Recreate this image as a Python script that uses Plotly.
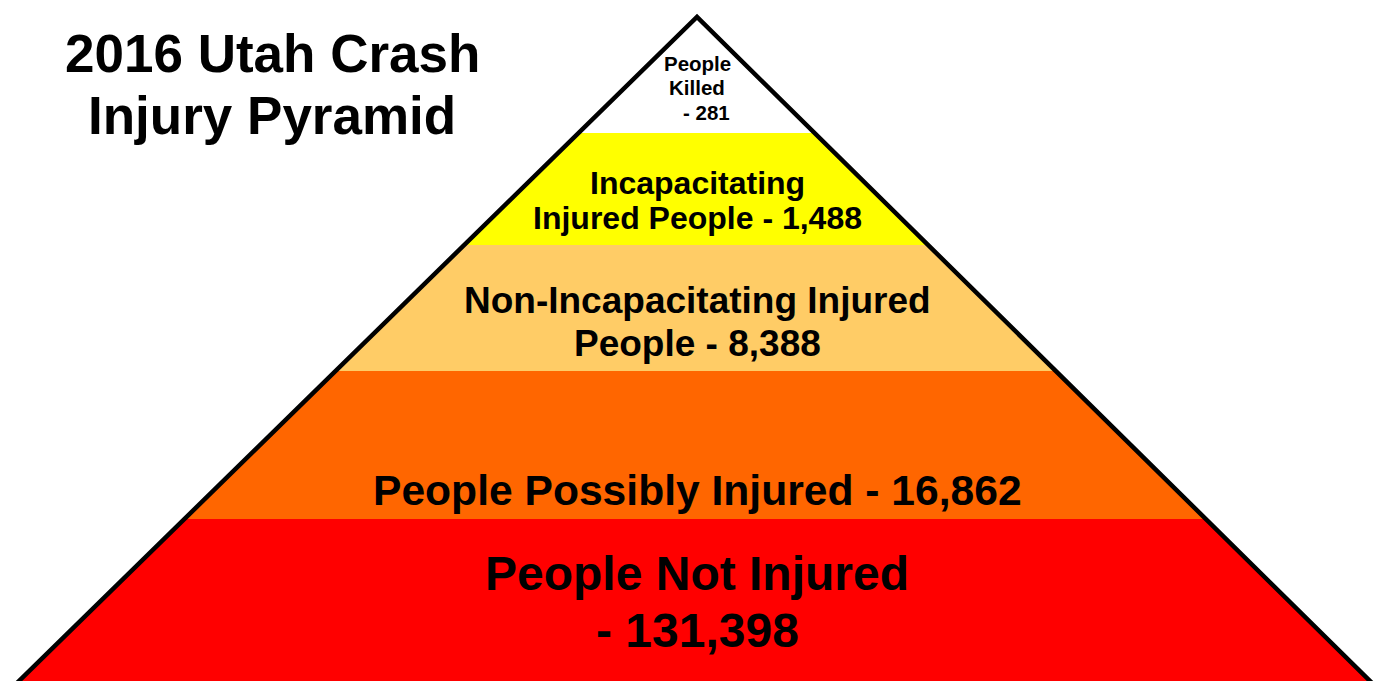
import plotly.graph_objects as go

# ---- data ----
layer_names = ["People Killed", "Incapacitating Injured People",
               "Non-Incapacitating Injured People", "People Possibly Injured",
               "People Not Injured"]
layer_counts = [281, 1488, 8388, 16862, 131398]
title_lines = ["2016 Utah Crash", "Injury Pyramid"]

# ---- style / layout ----
layer_colors = ["#FFFFFF", "#FFFF00", "#FFCC66", "#FF6600", "#FF0000"]
band_edges = [17, 133, 245, 371, 519, 700]   # vertical band limits (pixel-like units)
apex = (697, 17)
base_y = 681
base_left, base_right = 19, 1370
W, H = 1374, 681
FONT = "Liberation Sans, Arial, sans-serif"


def x_left(y):
    return apex[0] - (y - apex[1]) * (apex[0] - base_left) / (base_y - apex[1])


def x_right(y):
    return apex[0] + (y - apex[1]) * (base_right - apex[0]) / (base_y - apex[1])


fig = go.Figure()
for i, name in enumerate(layer_names):
    y0, y1 = band_edges[i], band_edges[i + 1]
    xs = [x_left(y0), x_right(y0), x_right(y1), x_left(y1), x_left(y0)]
    ys = [y0, y0, y1, y1, y0]
    fig.add_trace(go.Scatter(x=xs, y=ys, fill="toself", fillcolor=layer_colors[i],
                             mode="lines", line=dict(width=0, color=layer_colors[i]),
                             hoverinfo="skip", name=name, showlegend=False))

# outline of the pyramid's two sides
ybot = band_edges[-1]
fig.add_trace(go.Scatter(x=[x_left(ybot), apex[0], x_right(ybot)],
                         y=[ybot, apex[1], ybot], mode="lines",
                         line=dict(color="black", width=4.5), hoverinfo="skip",
                         showlegend=False))

# ---- labels (one annotation per line) ----
fmt = [f"{c:,}" for c in layer_counts]
label_lines = [
    # (text, x, y, size)
    ("People", 697, 63, 20.5), ("Killed", 697, 87, 20.5), (f"- {fmt[0]}", 706, 112, 20.5),
    ("Incapacitating", 697, 183, 32), (f"Injured People - {fmt[1]}", 697, 218, 32),
    ("Non-Incapacitating Injured", 697, 300, 37), (f"People - {fmt[2]}", 697, 343, 37),
    (f"People Possibly Injured - {fmt[3]}", 697, 490, 42.6),
    ("People Not Injured", 697, 573, 48), (f"- {fmt[4]}", 697, 630, 48),
    (title_lines[0], 272, 53, 53), (title_lines[1], 272, 115, 53),
]
for text, x, y, size in label_lines:
    fig.add_annotation(x=x, y=y, xref="x", yref="y", text=f"<b>{text}</b>",
                       showarrow=False, xanchor="center", yanchor="middle",
                       font=dict(family=FONT, size=size, color="black"))

fig.update_layout(width=W, height=H, margin=dict(l=0, r=0, t=0, b=0),
                  paper_bgcolor="white", plot_bgcolor="white",
                  xaxis=dict(range=[0, W], visible=False, fixedrange=True),
                  yaxis=dict(range=[H, 0], visible=False, fixedrange=True))

fig.write_html("out.html", config={"displayModeBar": False})

# remove the browser's default 8px body margin so the figure fills the window
with open("out.html", "r", encoding="utf-8") as f:
    html = f.read()
html = html.replace("<head>", "<head><style>html,body{margin:0;padding:0;overflow:hidden;}</style>", 1)
with open("out.html", "w", encoding="utf-8") as f:
    f.write(html)
